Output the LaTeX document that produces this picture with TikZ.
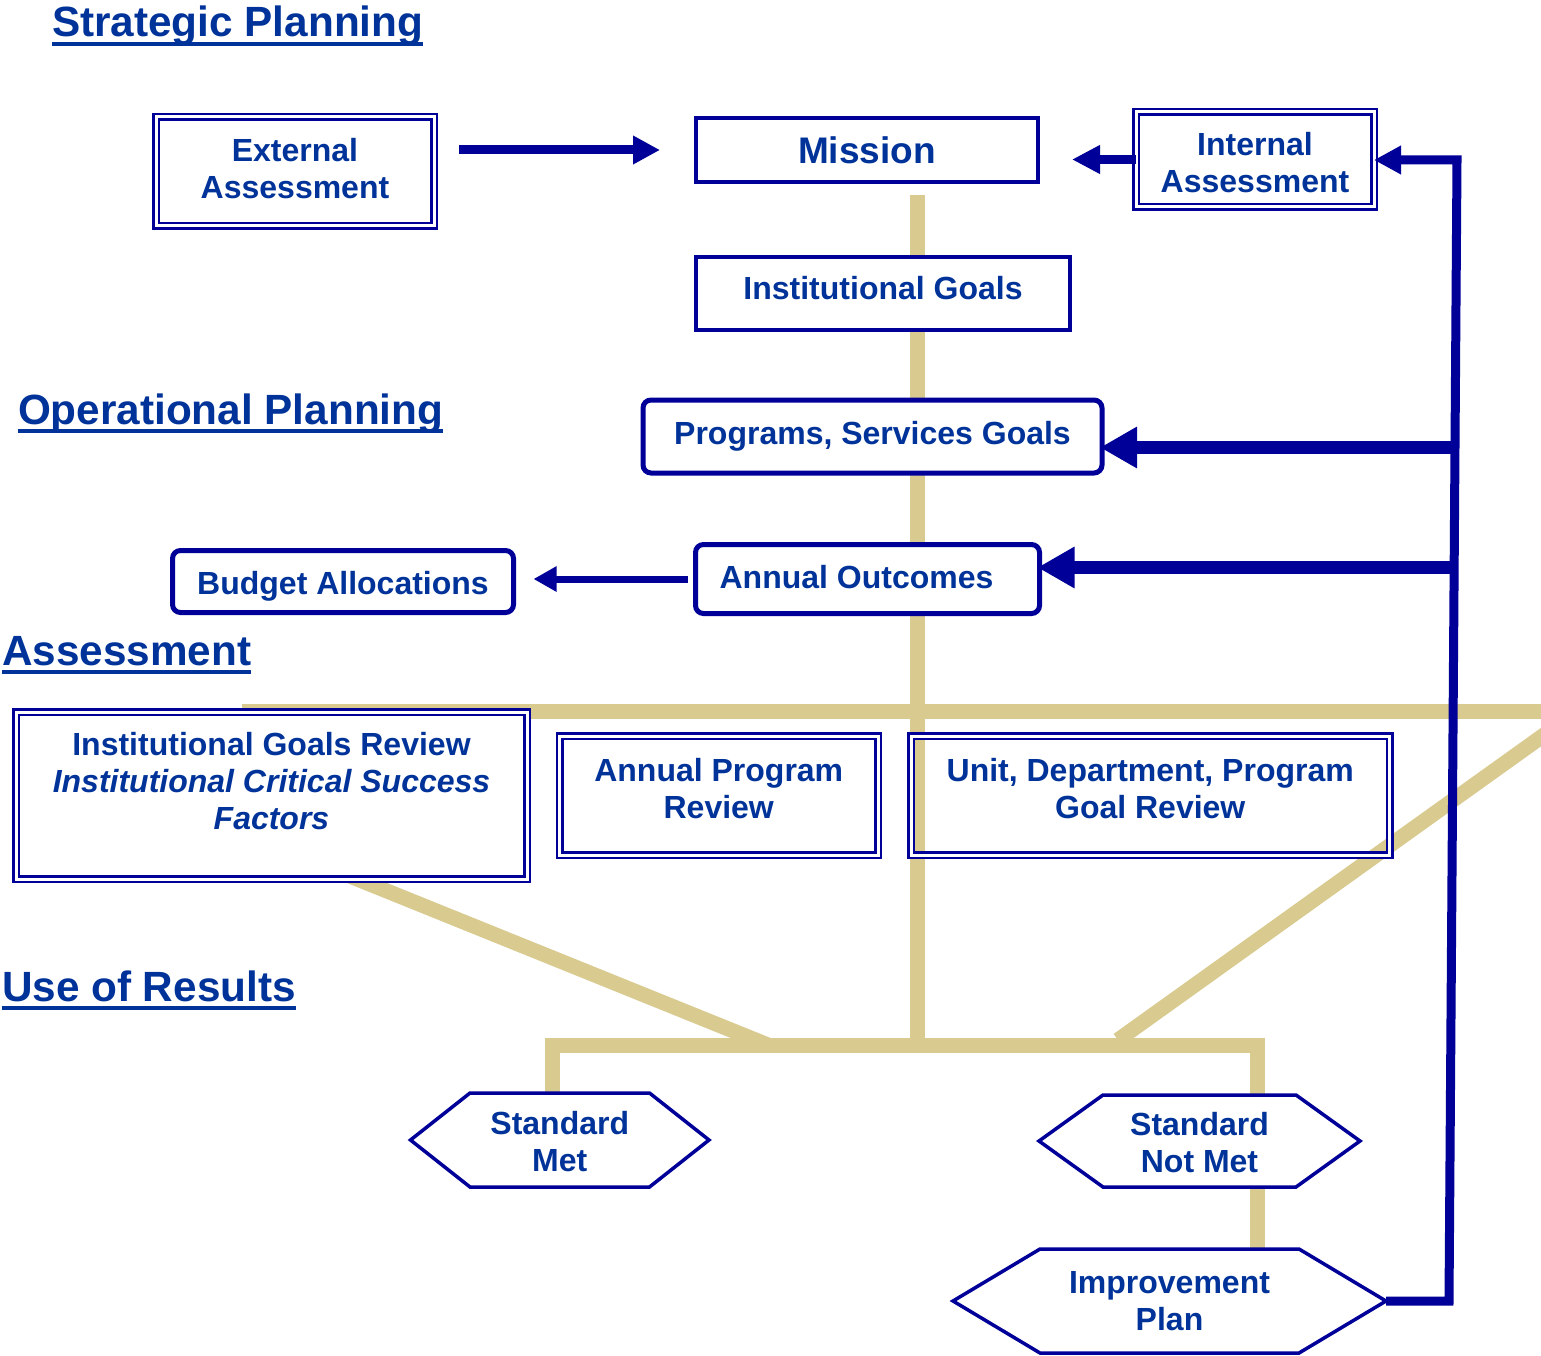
\documentclass[tikz,border=0pt]{standalone}
\usepackage{fontspec}
\setmainfont{Liberation Sans}
\usetikzlibrary{arrows.meta,calc}
\definecolor{navy}{RGB}{0,0,153}
\definecolor{txtblue}{RGB}{0,51,153}
\definecolor{tanc}{RGB}{217,202,143}
\pgfdeclarelayer{back}
\pgfdeclarelayer{bg}
\pgfsetlayers{back,bg,main}
\newcommand\drawhex[2]{\draw[hexline] (#1.west) -- ([xshift=#2pt]#1.north west) -- ([xshift=-#2pt]#1.north east) -- (#1.east) -- ([xshift=-#2pt]#1.south east) -- ([xshift=#2pt]#1.south west) -- cycle;}
\newcommand\vsh[2]{\raisebox{#1}[\height][\depth]{\begin{tabular}{@{}c@{}}#2\end{tabular}}}
\begin{document}
\begin{tikzpicture}[x=1pt,y=-1pt,
  every node/.style={inner sep=0pt, outer sep=0pt, text=txtblue, font=\bfseries\fontsize{32}{37}\selectfont},
  dbox/.style={draw=navy, double=white, line width=2.5pt, double distance=3pt, align=center},
  sbox/.style={draw=navy, line width=4pt, fill=white, align=center},
  rbox/.style={draw=navy, line width=5pt, rounded corners=8pt, fill=white, align=center},
  hexn/.style={align=center},
  hexline/.style={draw=navy, line width=3.5pt, line join=miter},
  tanl/.style={draw=tanc, line width=15pt},
  title/.style={anchor=base west, font=\bfseries\fontsize{42.3}{50}\selectfont},
  uline/.style={draw=txtblue, line width=3.5pt},
]
\useasboundingbox (0,0) rectangle (1541,1356);
\begin{pgfonlayer}{back}
\fill[white] (0,0) rectangle (1541,1356);
\end{pgfonlayer}
\clip (0,0) rectangle (1541,1356);

% titles
\node[title] (t1) at (52,37) {Strategic Planning};
\node[title] (t2) at (18,424) {Operational Planning};
\node[title] (t3) at (2,665) {Assessment};
\node[title] (t4) at (2,1001) {Use of Results};
\foreach \t in {t1,t2,t3,t4}
  \draw[uline] ([yshift=-7pt]\t.base west) -- ([yshift=-7pt]\t.base east);

% boxes
\node[dbox, minimum width=278pt, minimum height=109pt] (ext) at (295,171.5) {\vsh{-1pt}{External\\Assessment}};
\node[sbox, minimum width=342pt, minimum height=64pt, font=\bfseries\fontsize{37}{42}\selectfont] (mission) at (867,150) {Mission};
\node[dbox, minimum width=238pt, minimum height=95pt] (int) at (1255,159.5) {\vsh{-7pt}{Internal\\Assessment}};
\node[sbox, minimum width=374pt, minimum height=73pt] (ig) at (883,293.5) {\raisebox{5pt}[\height][\depth]{Institutional Goals}};
\node[rbox, minimum width=459pt, minimum height=73pt] (prog) at (872.5,436.5) {Programs, Services Goals};
\node[rbox, minimum width=344pt, minimum height=69pt] (ao) at (867.5,579) {\raisebox{2pt}[\height][\depth]{Annual Outcomes}\hspace*{22pt}};
\node[rbox, minimum width=341pt, minimum height=62pt] (budget) at (343,581.5) {\raisebox{-5pt}[\height][\depth]{Budget Allocations}};
\node[dbox, fill=white, minimum width=511pt, minimum height=167pt] (igr) at (271.5,795.5)
  {Institutional Goals Review\\\textit{Institutional Critical Success}\\\textit{Factors}\\[-8pt]\mbox{}};
\node[dbox, minimum width=318.5pt, minimum height=119pt] (apr) at (718.75,795.5) {Annual Program\\Review\\[-22pt]\mbox{}};
\node[dbox, minimum width=478.5pt, minimum height=119pt] (unit) at (1150.25,795.5) {Unit, Department, Program\\Goal Review\\[-22pt]\mbox{}};

% hexagons
\node[hexn, minimum width=298.5pt, minimum height=94pt] (sm) at (559.75,1140) {\vsh{-6pt}{Standard\\Met}};
\node[hexn, minimum width=321pt, minimum height=92pt] (snm) at (1199.5,1141) {\vsh{-6pt}{Standard\\Not Met}};
\node[hexn, minimum width=433pt, minimum height=104pt] (imp) at (1169.5,1301) {Improvement\\Plan};
\drawhex{sm}{59.5}
\drawhex{snm}{64}
\drawhex{imp}{87}

% tan lines
\begin{pgfonlayer}{bg}
\coordinate (jtop) at (917,195);
\coordinate (jbot) at (917,1045);
\draw[tanl] (jtop) -- (jbot);
\draw[tanl] (242,711) -- (1560,711);
\draw[tanl] (1560,723.5) -- (1118,1040);
\draw[tanl] (330,868) -- (768,1045);
\coordinate (csm) at ([xshift=-7.75pt]sm.north);
\coordinate (csnm) at ([xshift=57.5pt]snm.north);
\draw[tanl] (csm) -- (csm |- jbot) -- (csnm |- jbot) -- (csnm);
\coordinate (csnmb) at ([xshift=57.5pt]snm.south);
\draw[tanl] (csnmb) -- (csnmb |- imp.north);
\end{pgfonlayer}

% navy arrows
\draw[navy, line width=9pt, -{Triangle[length=27pt,width=27pt]}, shorten <=25pt, shorten >=36pt] (ext.east |- mission.west) -- (mission.west);
\draw[navy, line width=9pt, -{Triangle[length=28pt,width=27pt]}, shorten >=34pt] (int.west) -- (int.west -| mission.east);
\coordinate (fbB) at (1449,1301);
\coordinate (fbT) at (1457,160);
\draw[navy, line width=9pt, line join=miter, -{Triangle[length=27pt,width=27pt]}] (imp.east) -- (fbB) -- (fbT) -- (fbT -| int.east);
\coordinate (b1) at (1453,447.5);
\draw[navy, line width=13pt, -{Triangle[length=37pt,width=39pt]}, shorten >=-2pt] (b1) -- (b1 -| prog.east);
\coordinate (b2) at (1452,567.5);
\draw[navy, line width=13pt, -{Triangle[length=37pt,width=39pt]}, shorten >=-2pt] (b2) -- (b2 -| ao.east);
\draw[navy, line width=7pt, -{Triangle[length=23pt,width=24pt]}, shorten <=8pt, shorten >=20pt] (ao.west) -- (ao.west -| budget.east);
\end{tikzpicture}
\end{document}
